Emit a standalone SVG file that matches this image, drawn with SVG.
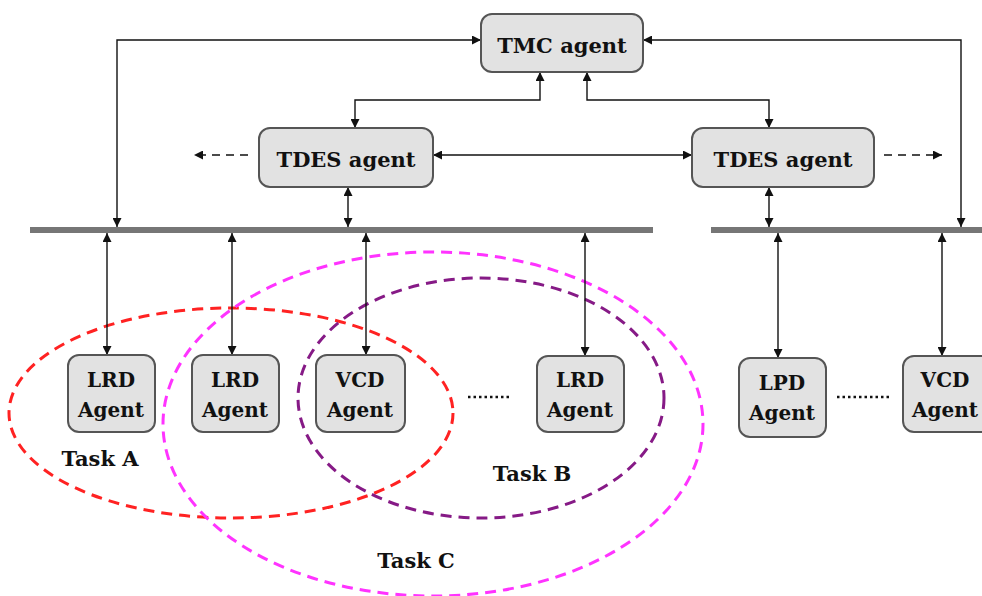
<svg xmlns="http://www.w3.org/2000/svg" width="982" height="596" viewBox="0 0 982 596">
<style>
.box{fill:#e2e2e2;stroke:#555;stroke-width:2}
.t{font-family:"DejaVu Serif","Liberation Serif",serif;font-weight:bold;fill:#111;text-anchor:middle}
.ln{fill:none;stroke:#111;stroke-width:1.4}
.dash{fill:none;stroke:#111;stroke-width:1.6;stroke-dasharray:8,6}
.ell{fill:none;stroke-width:3;stroke-dasharray:11,7}
.bus{fill:#767676}
.dots{fill:none;stroke:#111;stroke-width:2.5;stroke-dasharray:2.5,3}
</style>
<defs>
<marker id="ah" viewBox="0 0 10 10" refX="10" refY="5" markerWidth="9" markerHeight="9" markerUnits="userSpaceOnUse" orient="auto-start-reverse">
<path d="M0,0 L10,5 L0,10 z" fill="#111"/>
</marker>
</defs>
<rect class="bus" x="30" y="227" width="623" height="6"/>
<rect class="bus" x="711" y="227" width="271" height="6"/>
<g id="ellipses">
<ellipse class="ell" cx="231" cy="413" rx="222" ry="105" stroke="#ff2222"/>
<ellipse class="ell" cx="433" cy="424" rx="270" ry="172" stroke="#ff33ff"/>
<ellipse class="ell" cx="481" cy="398" rx="183" ry="120" stroke="#861a86"/>
</g>
<g id="connectors">
<polyline class="ln" points="117,227 117,40 481,40" marker-start="url(#ah)" marker-end="url(#ah)"/>
<polyline class="ln" points="961,227 961,40 643,40" marker-start="url(#ah)" marker-end="url(#ah)"/>
<polyline class="ln" points="540,72 540,100 355,100 355,128" marker-start="url(#ah)" marker-end="url(#ah)"/>
<polyline class="ln" points="587,72 587,100 769,100 769,128" marker-start="url(#ah)" marker-end="url(#ah)"/>
<line class="ln" x1="433" y1="155" x2="692" y2="155" marker-start="url(#ah)" marker-end="url(#ah)"/>
<line class="ln" x1="348" y1="187" x2="348" y2="227" marker-start="url(#ah)" marker-end="url(#ah)"/>
<line class="ln" x1="769" y1="187" x2="769" y2="227" marker-start="url(#ah)" marker-end="url(#ah)"/>
<line class="ln" x1="107" y1="233" x2="107" y2="355" marker-start="url(#ah)" marker-end="url(#ah)"/>
<line class="ln" x1="232" y1="233" x2="232" y2="355" marker-start="url(#ah)" marker-end="url(#ah)"/>
<line class="ln" x1="366" y1="233" x2="366" y2="355" marker-start="url(#ah)" marker-end="url(#ah)"/>
<line class="ln" x1="585" y1="233" x2="585" y2="356" marker-start="url(#ah)" marker-end="url(#ah)"/>
<line class="ln" x1="778" y1="233" x2="778" y2="358" marker-start="url(#ah)" marker-end="url(#ah)"/>
<line class="ln" x1="942" y1="233" x2="942" y2="356" marker-start="url(#ah)" marker-end="url(#ah)"/>
<line class="dash" x1="248" y1="155" x2="194" y2="155" marker-end="url(#ah)"/>
<line class="dash" x1="884" y1="155" x2="942" y2="155" marker-end="url(#ah)"/>
<line class="dots" x1="468" y1="397" x2="512" y2="397"/>
<line class="dots" x1="837" y1="397" x2="890" y2="397"/>
</g>
<g id="tmc"><rect class="box" x="481" y="14" width="162" height="58" rx="11"/><text class="t" x="562" y="53" font-size="21">TMC agent</text></g>
<g id="tdes1"><rect class="box" x="259" y="128" width="174" height="59" rx="11"/><text class="t" x="346" y="167" font-size="21">TDES agent</text></g>
<g id="tdes2"><rect class="box" x="692" y="128" width="182" height="59" rx="11"/><text class="t" x="783" y="167" font-size="21">TDES agent</text></g>
<g id="lrd1"><rect class="box" x="68" y="355" width="87" height="77" rx="11"/><text class="t" x="111" y="387" font-size="20">LRD</text><text class="t" x="111" y="417" font-size="20">Agent</text></g>
<g id="lrd2"><rect class="box" x="192" y="355" width="87" height="77" rx="11"/><text class="t" x="235" y="387" font-size="20">LRD</text><text class="t" x="235" y="417" font-size="20">Agent</text></g>
<g id="vcd1"><rect class="box" x="316" y="355" width="89" height="77" rx="11"/><text class="t" x="360" y="387" font-size="20">VCD</text><text class="t" x="360" y="417" font-size="20">Agent</text></g>
<g id="lrd3"><rect class="box" x="537" y="356" width="87" height="76" rx="11"/><text class="t" x="580" y="387" font-size="20">LRD</text><text class="t" x="580" y="417" font-size="20">Agent</text></g>
<g id="lpd"><rect class="box" x="739" y="358" width="87" height="79" rx="11"/><text class="t" x="782" y="390" font-size="20">LPD</text><text class="t" x="782" y="420" font-size="20">Agent</text></g>
<g id="vcd2"><rect class="box" x="903" y="356" width="90" height="76" rx="11"/><text class="t" x="945" y="387" font-size="20">VCD</text><text class="t" x="945" y="417" font-size="20">Agent</text></g>
<g id="labels">
<text class="t" x="100" y="466" font-size="21">Task A</text>
<text class="t" x="532" y="481" font-size="21">Task B</text>
<text class="t" x="416" y="568" font-size="21">Task C</text>
</g>
</svg>
